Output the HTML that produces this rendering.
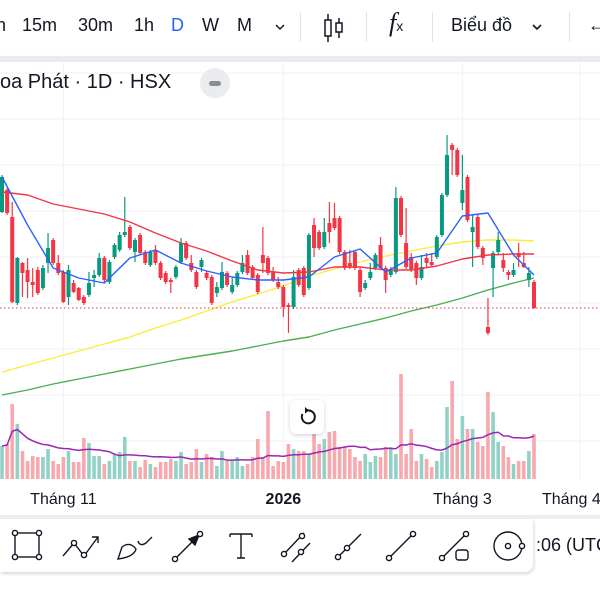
<!DOCTYPE html>
<html><head><meta charset="utf-8">
<style>
html,body{margin:0;padding:0;background:#fff;}
body{width:600px;height:600px;overflow:hidden;position:relative;font-family:"Liberation Sans","Noto Sans CJK SC",sans-serif;color:#131722;}
.tb{position:absolute;top:0;left:0;width:600px;height:56px;background:#fff;}
.tb span{position:absolute;top:15px;font-size:18px;}
.sep{position:absolute;top:12px;width:1px;height:30px;background:#e0e3eb;}
.band{position:absolute;top:56px;left:0;width:600px;height:6px;background:#e9ebf0;}
</style></head><body>
<div class="tb">
  <span style="left:-4px">h</span>
  <span style="left:22px">15m</span>
  <span style="left:78px">30m</span>
  <span style="left:134px">1h</span>
  <span style="left:171px;color:#2962ff">D</span>
  <span style="left:202px">W</span>
  <span style="left:237px">M</span>
  <svg style="position:absolute;left:274px;top:22px" width="12" height="10"><path d="M2 3 L6 7 L10 3" stroke="#131722" stroke-width="1.5" fill="none"/></svg>
  <div class="sep" style="left:300px"></div>
  <svg style="position:absolute;left:322px;top:12px" width="24" height="32">
    <line x1="6" y1="2" x2="6" y2="30" stroke="#131722" stroke-width="1.5"/><rect x="3" y="8" width="6" height="16" fill="#fff" stroke="#131722" stroke-width="1.5"/>
    <line x1="17" y1="6" x2="17" y2="26" stroke="#131722" stroke-width="1.5"/><rect x="14" y="11" width="6" height="9" fill="#fff" stroke="#131722" stroke-width="1.5"/></svg>
  <div class="sep" style="left:366px"></div>
  <div style="position:absolute;left:389px;top:8px;font-size:26px;font-family:'Liberation Serif',serif;font-style:italic">f<span style="position:static;font-size:14px;font-style:normal;font-family:'Liberation Sans',sans-serif">x</span></div>
  <div class="sep" style="left:432px"></div>
  <span style="left:451px">Biểu đồ</span>
  <svg style="position:absolute;left:531px;top:22px" width="12" height="10"><path d="M2 3 L6 7 L10 3" stroke="#131722" stroke-width="1.6" fill="none"/></svg>
  <div class="sep" style="left:569px"></div>
  <span style="left:588px">←</span>
</div>
<div class="band"></div>

<svg id="chart" style="position:absolute;left:0;top:62px" width="600" height="456" viewBox="0 62 600 456"></svg>

<div style="position:absolute;left:0;top:71px;font-size:20px;white-space:nowrap">oa Phát · 1D · HSX</div>
<div style="position:absolute;left:200px;top:68px;width:30px;height:30px;border-radius:15px;background:#ebecef"><div style="position:absolute;left:9px;top:13px;width:12px;height:5px;border-radius:3px;background:#8a8d96"></div></div>

<div style="position:absolute;left:290px;top:400px;width:34px;height:34px;border-radius:6px;background:#fff;box-shadow:0 1px 4px rgba(0,0,0,0.18)">
<svg width="34" height="34"><path d="M12.5 14 A6.5 6.5 0 1 0 17 10.5" stroke="#131722" stroke-width="2" fill="none"/><path d="M15 7 L19 10.5 L15 13.5 Z" fill="#131722"/></svg></div>

<div style="position:absolute;left:0;top:515px;width:600px;height:4px;background:#eceef2"></div>
<div style="position:absolute;left:0;top:519px;width:533px;height:53px;background:#fff;border-radius:0 0 8px 0;box-shadow:1px 2px 3px rgba(0,0,0,0.15)">
<svg width="533" height="53" fill="none" stroke="#131722" stroke-width="1.4">
 <g><rect x="15" y="14" width="24" height="24"/><circle cx="15" cy="14" r="2.6" fill="#fff"/><circle cx="39" cy="14" r="2.6" fill="#fff"/><circle cx="15" cy="38" r="2.6" fill="#fff"/><circle cx="39" cy="38" r="2.6" fill="#fff"/></g>
 <g><path d="M63 37 L74 24 L84 37 L98 18"/><path d="M92 18 L98 18 L98 24"/><circle cx="74" cy="24" r="2.6" fill="#fff"/><circle cx="84" cy="36" r="2.6" fill="#fff"/></g>
 <g><path d="M118 40 L122 28 Q130 22 136 30 Q134 38 118 40 Z"/><path d="M138 22 Q140 28 146 24 L152 18"/></g>
 <g><path d="M175 40 L197 18"/><path d="M199 16 L189 20 L195 26 Z" fill="#131722"/><circle cx="175" cy="40" r="2.6" fill="#fff"/><circle cx="200" cy="15" r="2.6" fill="#fff"/></g>
 <g><path d="M230 15 L252 15 M241 15 L241 39 M237 39 L245 39 M230 15 L230 18 M252 15 L252 18"/></g>
 <g><path d="M284 35 L304 14 M292 43 L310 24"/><circle cx="284" cy="35" r="2.6" fill="#fff"/><circle cx="302" cy="17" r="2.6" fill="#fff"/><circle cx="301" cy="33" r="2.6" fill="#fff"/></g>
 <g><path d="M336 40 L361 15"/><circle cx="338" cy="38" r="2.6" fill="#fff"/><circle cx="347" cy="29" r="2.6" fill="#fff"/></g>
 <g><path d="M389 39 L412 16"/><circle cx="389" cy="39" r="2.6" fill="#fff"/><circle cx="413" cy="15" r="2.6" fill="#fff"/></g>
 <g><path d="M442 39 L465 16"/><circle cx="442" cy="39" r="2.6" fill="#fff"/><circle cx="466" cy="15" r="2.6" fill="#fff"/><rect x="456" y="31" width="12" height="10" rx="2.5"/></g>
 <g><circle cx="508" cy="27" r="14"/><circle cx="508" cy="27" r="2.6"/><circle cx="522" cy="27" r="2.6" fill="#fff"/></g>
</svg></div>
<div style="position:absolute;left:536px;top:535px;font-size:18px;white-space:nowrap">:06 (UTC</div>

<script>
const opens  =[38.8,41.0,38.3,29.7,33.7,33.0,31.8,33.0,31.2,33.7,36.0,33.7,32.8,30.3,31.7,31.2,30.3,30.5,32.2,32.5,34.2,31.8,34.3,35.0,36.5,37.3,34.8,36.5,34.8,33.5,35.0,33.7,32.7,32.0,32.3,33.8,35.7,33.7,32.8,33.3,32.7,32.3,30.7,31.2,32.7,30.8,31.5,32.8,34.5,33.3,32.5,34.5,34.2,32.8,31.8,31.3,29.5,29.3,33.0,33.2,31.2,37.5,36.8,35.3,37.7,38.2,38.2,34.8,33.7,34.8,33.0,31.2,32.2,33.2,35.5,33.2,32.5,32.8,40.2,35.7,34.3,33.7,32.2,34.2,33.8,34.3,36.5,40.5,45.5,45.0,39.7,42.3,36.8,38.3,35.2,27.3,33.2,34.8,34.0,32.8,32.5,34.7,33.7,32.0,31.8];
const highs  =[42.5,41.2,39.8,34.3,33.8,34.2,33.2,33.3,33.5,36.7,36.2,34.5,33.0,33.5,32.0,31.3,30.5,32.8,33.0,34.7,34.4,34.0,35.7,36.8,40.3,37.5,36.2,36.7,35.0,35.0,35.5,33.9,32.9,32.2,33.5,36.2,35.9,34.5,33.0,34.2,32.9,32.5,31.8,33.8,32.9,32.3,32.9,34.5,35.0,33.5,32.7,37.3,34.4,33.3,32.3,31.5,29.7,33.0,33.2,33.4,36.7,38.2,37.0,38.2,39.8,39.7,38.4,35.0,35.0,35.0,33.2,32.0,33.7,34.7,36.3,33.4,33.3,41.3,40.4,39.2,34.7,33.9,34.5,34.7,34.7,36.5,40.7,46.5,45.7,45.2,44.5,42.5,38.5,38.5,35.4,30.2,34.9,36.8,34.7,33.0,33.7,35.7,34.8,33.3,32.0];
const lows   =[38.7,38.5,29.7,29.5,30.3,30.2,30.3,30.5,31.0,32.7,33.5,32.5,29.7,29.5,30.7,29.9,29.5,30.3,31.3,32.3,31.8,31.6,34.1,34.8,36.3,35.0,33.8,34.5,33.5,33.3,33.5,32.0,31.6,30.7,32.1,33.6,34.0,32.8,31.1,32.8,32.0,29.5,30.3,31.0,31.3,30.6,31.3,32.6,32.5,32.0,30.6,32.7,32.5,31.8,31.1,28.3,26.7,29.1,31.3,30.3,31.0,34.3,35.0,35.1,35.7,37.0,34.6,33.0,33.1,33.0,30.3,31.0,32.0,33.0,33.0,30.7,32.3,32.6,36.3,33.1,32.8,31.5,32.0,33.2,33.3,34.1,36.3,40.3,42.5,42.3,39.0,37.8,33.3,35.1,33.5,26.5,30.3,34.6,32.8,32.0,32.3,33.3,33.2,31.3,29.1];
const closes =[42.3,38.7,29.8,34.2,32.7,31.8,31.5,30.7,33.2,35.2,33.7,32.7,29.8,33.0,30.8,30.0,29.7,31.7,32.5,34.2,32.0,33.8,35.5,36.5,36.8,35.2,36.0,34.7,33.7,34.8,33.7,32.2,31.8,31.8,33.3,35.7,34.2,33.0,31.3,34.0,32.2,29.7,31.3,32.8,31.5,31.5,32.7,33.7,32.7,32.2,30.8,33.7,32.7,32.0,31.3,29.3,29.3,32.3,31.5,30.5,36.5,35.2,35.2,36.8,36.8,37.2,34.8,33.2,33.3,33.2,30.8,31.7,32.8,34.5,33.2,32.0,33.0,40.2,36.5,33.3,33.0,32.2,33.3,33.7,33.5,36.3,40.5,44.5,45.0,42.5,41.0,38.0,37.3,35.3,34.2,26.7,34.7,36.0,33.2,32.5,33.0,34.3,33.3,32.7,29.2];
const volumes=[33,35,75,55,28,18,23,22,22,30,18,15,22,28,17,17,41,36,23,23,15,18,25,27,42,18,18,12,19,15,12,17,17,20,18,27,15,17,30,17,25,22,13,28,18,18,22,13,15,22,40,22,68,13,18,17,35,30,28,28,25,45,35,40,47,48,32,32,30,22,18,25,17,23,22,32,32,25,105,25,50,18,25,20,12,18,27,72,98,40,63,50,50,37,33,87,67,37,33,22,15,18,18,28,45];
// moving averages sampled every 5 bars (bar index given in maIndex)
const maIndex=[0,5,10,15,20,25,30,35,40,45,50,55,60,65,70,75,80,85,90,95,100,104];
const ma10 =[42.3,37.5,33.2,32.2,31.7,34.2,35.0,33.7,32.9,32.3,32.0,32.0,32.3,34.3,35.1,32.8,34.2,34.7,38.4,38.7,34.5,32.5];
const ma50 =[40.8,40.5,39.6,39.1,38.6,37.8,36.7,35.7,34.9,33.9,33.0,32.7,32.8,33.3,33.3,33.0,33.0,33.4,34.1,34.5,34.6,34.6];
const ma100=[22.8,23.5,24.2,24.9,25.6,26.3,27.2,28.0,28.9,29.8,30.6,31.4,32.4,33.1,33.8,34.4,34.9,35.4,35.8,36.0,36.0,35.9];
const ma200=[20.5,21.0,21.6,22.1,22.6,23.1,23.6,24.1,24.5,24.9,25.4,25.9,26.3,27.0,27.6,28.2,28.9,29.5,30.2,31.0,31.7,32.2];
const xLabels=["Tháng 11","2026","Tháng 3","Tháng 4"];
const xLabelBars=[12,55,90,113];

const NS="http://www.w3.org/2000/svg";
const svg=document.getElementById('chart');
const n=closes.length;
const X0=2, STEP=(534-2)/(n-1);
function xB(i){return X0+i*STEP;}
function yP(p){return 600-p*10;}
function yV(v){return 479-v;}
function mk(tag,attrs,parent){const e=document.createElementNS(NS,tag);for(const k in attrs)e.setAttribute(k,attrs[k]);(parent||svg).appendChild(e);return e;}

// grid
const grid=mk('g',{});


for(let y=73;y<=479;y+=46){mk('line',{x1:0,x2:600,y1:y,y2:y,stroke:'#f0f2f6','stroke-width':1},grid);}
xLabelBars.forEach(b=>{const x=xB(b);mk('line',{x1:x,x2:x,y1:62,y2:480,stroke:'#f0f2f6','stroke-width':1},grid);});

// volume
const vg=mk('g',{});


volumes.forEach((v,i)=>{
  const up=closes[i]>=opens[i];
  const r=mk('rect',{x:xB(i)-1.8,y:yV(v),width:3.6,height:v,fill:up?'#92d2c6':'#f7a9ae'},vg);
  
  
});
// volume MA
let vp=[];
for(let i=0;i<n;i++){const s=Math.max(0,i-19);let t=0;for(let j=s;j<=i;j++)t+=volumes[j];vp.push(xB(i)+','+yV(t/(i-s+1)));}
const vma=mk('polyline',{points:vp.join(' '),fill:'none',stroke:'#9c27b0','stroke-width':1.5});



// MA lines
function maLine(arr,color,name){
  const pts=arr.map((v,k)=>xB(maIndex[k])+','+yP(v)).join(' ');
  const l=mk('polyline',{points:pts,fill:'none',stroke:color,'stroke-width':1.4,'stroke-linejoin':'round'});
  
  
}
maLine(ma200,'#4caf50','ma200-line');
maLine(ma100,'#ffeb3b','ma100-line');

// candles
const cg=mk('g',{});


for(let i=0;i<n;i++){
  const up=closes[i]>=opens[i];const col=up?'#089981':'#f23645';const x=xB(i);
  const g=mk('g',{},cg);
  
  
  mk('line',{x1:x,x2:x,y1:yP(highs[i]),y2:yP(lows[i]),stroke:col,'stroke-width':1.2},g);
  const t=yP(Math.max(opens[i],closes[i])),b=yP(Math.min(opens[i],closes[i]));
  mk('rect',{x:x-2,y:t,width:4,height:Math.max(1,b-t),fill:col},g);
}
maLine(ma50,'#f23645','ma50-line');
maLine(ma10,'#2962ff','ma10-line');

// last price line
const lp=mk('line',{x1:0,x2:600,y1:yP(closes[n-1]),y2:yP(closes[n-1]),stroke:'#f23645','stroke-width':1,'stroke-dasharray':'1.5 2.5'});



// x labels
xLabels.forEach((t,k)=>{
  const x=xB(xLabelBars[k]);
  const tx=mk('text',{x:k==3?542:x,y:504,'text-anchor':k==3?'start':'middle','font-size':16,fill:'#131722','font-family':'Liberation Sans, sans-serif','font-weight':t=='2026'?'bold':'normal'});
  tx.textContent=t;
  
  
});
</script>
</body></html>
